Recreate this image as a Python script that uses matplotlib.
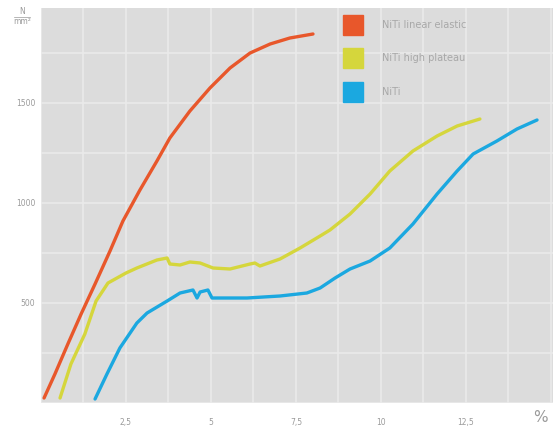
import matplotlib
matplotlib.use("Agg")
import matplotlib.pyplot as plt
from matplotlib.ticker import MultipleLocator

# Data (strain %, stress N/mm²)
red_x = [0.09, 0.41, 0.79, 1.18, 1.59, 2.03, 2.41, 2.91, 3.41, 3.79, 4.38, 4.97,
         5.56, 6.15, 6.74, 7.32, 8.0]
red_y = [25, 145, 295, 445, 595, 760, 910, 1065, 1210, 1325, 1460, 1575,
         1675, 1750, 1795, 1825, 1845]

yel_x = [0.56, 0.88, 1.29, 1.62, 1.97, 2.5, 2.82, 3.41, 3.71, 3.79, 4.09, 4.38, 4.68,
         5.06, 5.56, 6.15, 6.29, 6.44, 7.03, 7.62, 8.21, 8.5, 9.09, 9.68, 10.26,
         10.94, 11.65, 12.24, 12.91]
yel_y = [25, 195, 345, 510, 600, 650, 675, 715, 725, 695, 690, 705, 700,
         675, 670, 695, 700, 685, 720, 775, 835, 865, 945, 1045, 1160,
         1260, 1335, 1385, 1420]

blu_x = [1.59, 1.94, 2.32, 2.82, 3.12, 3.71, 4.09, 4.47, 4.59, 4.68, 4.91, 5.03,
         6.06, 7.03, 7.82, 8.21, 8.65, 9.09, 9.68, 10.26, 10.94, 11.65, 12.24,
         12.71, 13.41, 14.0, 14.59]
blu_y = [20, 145, 275, 400, 450, 510, 550, 565, 525, 555, 565, 525,
         525, 535, 550, 575, 625, 670, 710, 775, 895, 1045, 1160,
         1245, 1310, 1370, 1415]

series_labels = ["NiTi linear elastic", "NiTi high plateau", "NiTi"]
colors = ["#E8572B", "#D5D63C", "#1BA8E0"]

x_ticks = [2.5, 5, 7.5, 10, 12.5]
x_ticklabels = ["2,5", "5", "7,5", "10", "12,5"]
y_ticks = [500, 1000, 1500]
y_ticklabels = ["500", "1000", "1500"]

fig = plt.figure(figsize=(5.53, 4.33), dpi=100)
ax = fig.add_axes([41/553, 1 - 403/433, 1 - 41/553, (403 - 8)/433])
ax.set_facecolor("#DCDCDC")
ax.set_xlim(0, 15.06)
ax.set_ylim(0, 1975)

ax.xaxis.set_minor_locator(MultipleLocator(1.25))
ax.yaxis.set_minor_locator(MultipleLocator(250))
ax.set_xticks(x_ticks)
ax.set_xticklabels(x_ticklabels)
ax.set_yticks(y_ticks)
ax.set_yticklabels(y_ticklabels)
ax.grid(which="both", color="#EAEAEA", linewidth=1.2)
ax.set_axisbelow(True)
ax.tick_params(which="both", length=0, labelsize=5.5, labelcolor="#9a9a9a")
ax.tick_params(axis="x", pad=11)
ax.tick_params(axis="y", pad=4)
for s in ax.spines.values():
    s.set_visible(False)

lw = 2.4
kw = dict(lw=lw, solid_capstyle="round", solid_joinstyle="round")
ax.plot(red_x, red_y, color=colors[0], **kw)
ax.plot(yel_x, yel_y, color=colors[1], **kw)
ax.plot(blu_x, blu_y, color=colors[2], **kw)

# Legend (manual, no frame)
leg_y = [25, 58, 92]
for c, lab, yy in zip(colors, series_labels, leg_y):
    fig.patches.append(plt.Rectangle((343/553, 1 - (yy + 10)/433), 20/553, 20/433,
                                     transform=fig.transFigure, color=c, zorder=5))
    fig.text(382/553, 1 - yy/433, lab, fontsize=7, color="#a8a8a8", va="center", ha="left")

# Units
fig.text(22/553, 1 - 12/433, "N", fontsize=5.5, color="#9a9a9a", ha="center", va="center")
fig.add_artist(plt.Line2D([14/553, 30/553], [1 - 17/433, 1 - 17/433],
                          transform=fig.transFigure, color="#9a9a9a", lw=0.5))
fig.text(22/553, 1 - 22/433, "mm²", fontsize=5.5, color="#9a9a9a", ha="center", va="center")
fig.text(540/553, 1 - 417/433, "%", fontsize=11, color="#9a9a9a", ha="center", va="center")

fig.savefig("out.png", dpi=100, facecolor="white")
